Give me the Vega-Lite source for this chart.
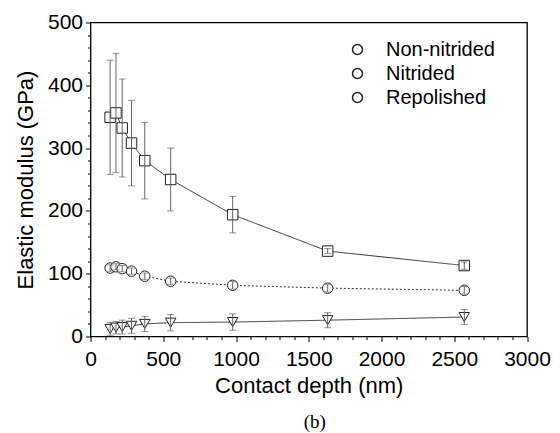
{
  "$schema": "https://vega.github.io/schema/vega-lite/v6.json",
  "width": 436.5,
  "height": 314,
  "autosize": {"type": "none"},
  "padding": {"left": 90.5, "top": 22.5, "right": 33, "bottom": 96.5},
  "background": "white",
  "title": {"text": "(b)", "orient": "bottom", "anchor": "middle", "font": "Liberation Serif", "fontSize": 19, "fontWeight": "normal", "color": "#000", "offset": 16, "dx": 6},
  "datasets": {
    "d": [
      {"series": "Non-nitrided", "depth": 135, "modulus": 109, "err": 5},
      {"series": "Non-nitrided", "depth": 175, "modulus": 111, "err": 5},
      {"series": "Non-nitrided", "depth": 218, "modulus": 108, "err": 5},
      {"series": "Non-nitrided", "depth": 282, "modulus": 104, "err": 5},
      {"series": "Non-nitrided", "depth": 373, "modulus": 96, "err": 5},
      {"series": "Non-nitrided", "depth": 551, "modulus": 88, "err": 5},
      {"series": "Non-nitrided", "depth": 977, "modulus": 81.5, "err": 6},
      {"series": "Non-nitrided", "depth": 1630, "modulus": 77, "err": 6},
      {"series": "Non-nitrided", "depth": 2569, "modulus": 73.5, "err": 6},
      {"series": "Nitrided", "depth": 135, "modulus": 12, "err": 10},
      {"series": "Nitrided", "depth": 175, "modulus": 14, "err": 10},
      {"series": "Nitrided", "depth": 218, "modulus": 15, "err": 11},
      {"series": "Nitrided", "depth": 282, "modulus": 17, "err": 12},
      {"series": "Nitrided", "depth": 373, "modulus": 20, "err": 12},
      {"series": "Nitrided", "depth": 551, "modulus": 22, "err": 13},
      {"series": "Nitrided", "depth": 977, "modulus": 23, "err": 13},
      {"series": "Nitrided", "depth": 1630, "modulus": 26, "err": 12},
      {"series": "Nitrided", "depth": 2569, "modulus": 31, "err": 12},
      {"series": "Repolished", "depth": 135, "modulus": 349, "err": 91},
      {"series": "Repolished", "depth": 175, "modulus": 356, "err": 95},
      {"series": "Repolished", "depth": 218, "modulus": 332, "err": 78},
      {"series": "Repolished", "depth": 282, "modulus": 308, "err": 68},
      {"series": "Repolished", "depth": 373, "modulus": 280, "err": 61},
      {"series": "Repolished", "depth": 551, "modulus": 250, "err": 50},
      {"series": "Repolished", "depth": 977, "modulus": 194, "err": 29},
      {"series": "Repolished", "depth": 1630, "modulus": 136, "err": 4},
      {"series": "Repolished", "depth": 2569, "modulus": 113, "err": 6}
    ]
  },
  "data": {"name": "d"},
  "resolve": {"axis": {"x": "independent", "y": "independent"}},
  "layer": [
    {
      "mark": {"type": "line", "color": "#333", "strokeWidth": 1},
      "encoding": {
        "x": {"field": "depth", "type": "quantitative", "scale": {"domain": [0, 3000], "nice": false},
          "axis": {"orient": "bottom", "values": [100,200,300,400,600,700,800,900,1100,1200,1300,1400,1600,1700,1800,1900,2100,2200,2300,2400,2600,2700,2800,2900], "labels": false, "tickSize": 3, "domain": false, "grid": false, "title": null, "tickColor": "#000"}},
        "y": {"field": "modulus", "type": "quantitative", "scale": {"domain": [0, 500], "nice": false},
          "axis": {"orient": "left", "values": [20,40,60,80,120,140,160,180,220,240,260,280,320,340,360,380,420,440,460,480], "labels": false, "tickSize": 3, "domain": false, "grid": false, "title": null, "tickColor": "#000"}},
        "detail": {"field": "series"},
        "strokeDash": {"field": "series", "type": "nominal", "scale": {"domain": ["Nitrided", "Repolished", "Non-nitrided"], "range": [[1, 0], [1, 0], [2, 2]]}, "legend": null}
      }
    },
    {
      "mark": {"type": "point", "filled": true, "stroke": "#222", "strokeWidth": 1, "opacity": 1, "size": 110},
      "encoding": {
        "x": {"field": "depth", "type": "quantitative", "scale": {"domain": [0, 3000], "nice": false},
          "axis": {"orient": "bottom", "values": [0, 500, 1000, 1500, 2000, 2500, 3000], "format": "d", "tickSize": 5, "domain": false, "grid": false, "title": "Contact depth (nm)", "labelFontSize": 21, "titleFontSize": 22, "titleFontWeight": "normal", "labelPadding": 7, "titlePadding": 6, "labelColor": "#000", "titleColor": "#000", "tickColor": "#000", "labelFlush": false, "labelOverlap": false}},
        "y": {"field": "modulus", "type": "quantitative", "scale": {"domain": [0, 500], "nice": false},
          "axis": {"orient": "left", "values": [0, 100, 200, 300, 400, 500], "format": "d", "tickSize": 5, "domain": false, "grid": false, "title": "Elastic modulus (GPa)", "labelFontSize": 21, "titleFontSize": 22, "titleFontWeight": "normal", "labelPadding": 3, "titlePadding": 10, "labelColor": "#000", "titleColor": "#000", "tickColor": "#000", "labelFlush": false, "labelOverlap": false}},
        "shape": {"field": "series", "type": "nominal", "scale": {"domain": ["Nitrided", "Non-nitrided", "Repolished"], "range": ["triangle-down", "circle", "square"]}, "legend": null},
        "color": {"field": "series", "type": "nominal", "scale": {"domain": ["Non-nitrided", "Nitrided", "Repolished"], "range": ["white", "white", "white"]},
          "legend": {"orient": "none", "legendX": 257, "legendY": 17, "title": null, "padding": 0, "labelFontSize": 20, "labelColor": "#000", "labelOffset": 18.5, "rowPadding": 4, "symbolSize": 100,
            "encode": {"symbols": {
              "shape": {"value": {"expr": "datum.value === 'Non-nitrided' ? 'M-4.6,0h0.2m0.2,0h0.2m0.2,0h0.2m0.2,0h0.2m0.2,0h0.2m0.2,0h0.2m0.2,0h0.2m0.2,0h0.2m0.2,0h0.2M1,0h0.2m0.2,0h0.2m0.2,0h0.2m0.2,0h0.2m0.2,0h0.2m0.2,0h0.2m0.2,0h0.2m0.2,0h0.2m0.2,0h0.2M-0.9,0a0.9,0.9 0 1,0 1.8,0a0.9,0.9 0 1,0 -1.8,0' : datum.value === 'Nitrided' ? 'M-4.6,0H-0.5M0.5,0H4.6M-1,-0.85L1,-0.85L0,0.9Z' : 'M-4.6,0H-0.9M0.9,0H4.6M-0.9,-0.9H0.9V0.9H-0.9Z'"}},
              "size": {"value": 100},
              "stroke": {"value": "#222"},
              "strokeWidth": {"value": 1},
              "opacity": {"value": 1}
            }}}}
      }
    },
    {
      "mark": {"type": "errorbar", "color": "#666", "ticks": {"size": 7, "color": "#666"}, "rule": {"strokeWidth": 1}},
      "encoding": {
        "x": {"field": "depth", "type": "quantitative", "scale": {"domain": [0, 3000], "nice": false}, "axis": null},
        "y": {"field": "modulus", "type": "quantitative", "scale": {"domain": [0, 500], "nice": false}, "axis": null},
        "yError": {"field": "err"},
        "detail": {"field": "series"}
      }
    }
  ],
  "config": {
    "font": "Liberation Sans",
    "view": {"stroke": "#000", "strokeWidth": 1.3},
    "axis": {"tickWidth": 1}
  }
}
